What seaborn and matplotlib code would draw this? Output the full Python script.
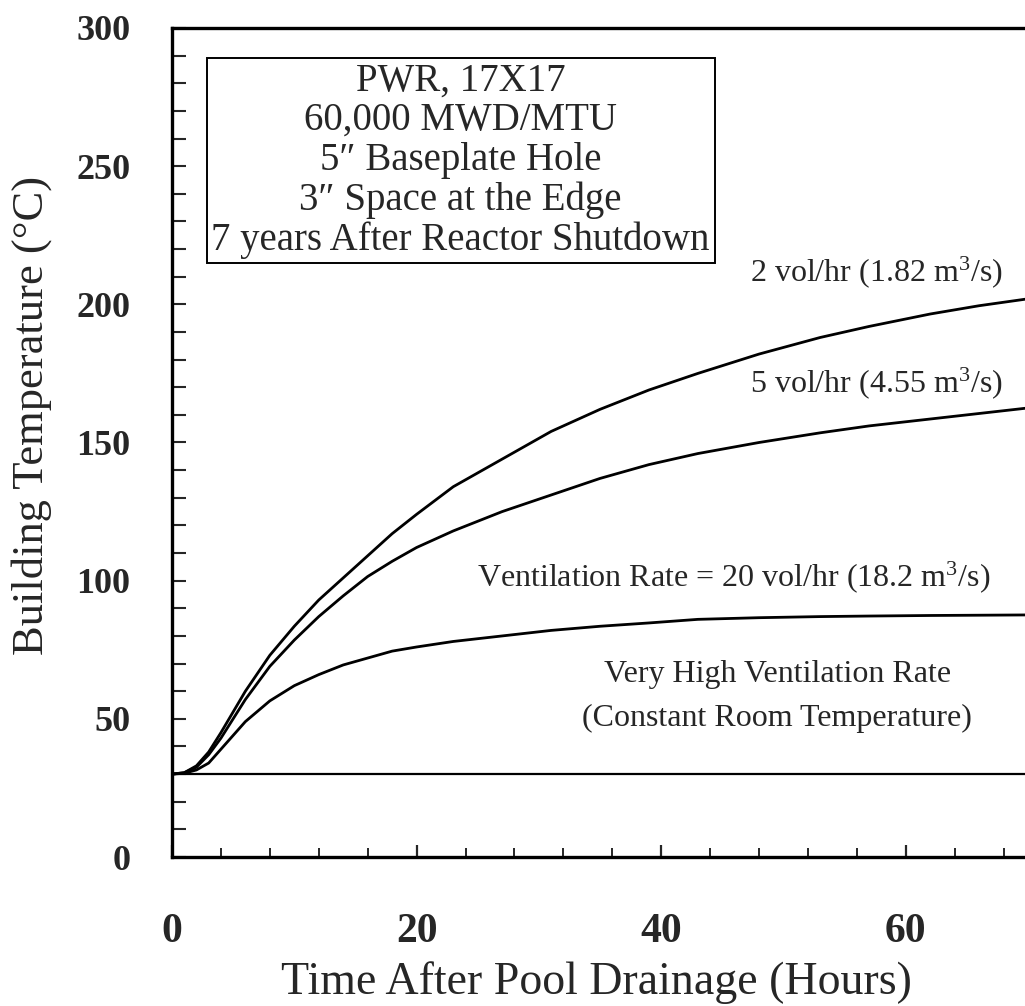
import numpy as np
import pandas as pd
import matplotlib
matplotlib.use("Agg")
import matplotlib.pyplot as plt
import seaborn as sns
from matplotlib.ticker import MultipleLocator

# ─────────────────────────────────────────────
# DATA
# ─────────────────────────────────────────────
hours = [0, 1, 2, 3, 4, 6, 8, 10, 12, 14, 16, 18, 20, 23, 27, 31, 35, 39, 43,
         48, 53, 57, 62, 66, 70]
temp_2vol = [30, 30.5, 33, 38, 45, 60, 73, 83.5, 93, 101, 109, 117, 124, 134,
             144, 154, 162, 169, 175, 182, 188, 192, 196.5, 199.5, 202]
temp_5vol = [30, 30.5, 32.5, 37, 43, 57, 69, 78.5, 87, 94.5, 101.5, 107, 112,
             118, 125, 131, 137, 142, 146, 150, 153.5, 156, 158.5, 160.5, 162.5]
temp_20vol = [30, 30.3, 31.5, 34, 39, 49, 56.5, 62, 66, 69.5, 72, 74.5, 76, 78,
              80, 82, 83.5, 84.7, 86, 86.6, 87, 87.2, 87.4, 87.5, 87.6]
room_temp = 30

box_lines = ["PWR, 17X17", "60,000 MWD/MTU", "5\u2033 Baseplate Hole",
             "3\u2033 Space at the Edge", "7 years After Reactor Shutdown"]
x_ticks = [0, 20, 40, 60]
y_ticks = [0, 50, 100, 150, 200, 250, 300]

df = pd.DataFrame({"hours": hours, "2vol": temp_2vol, "5vol": temp_5vol,
                   "20vol": temp_20vol})
df["room"] = room_temp

# ─────────────────────────────────────────────
# STYLE
# ─────────────────────────────────────────────
sns.set_theme(style="ticks")
plt.rcParams["font.family"] = ["Liberation Serif", "DejaVu Serif"]
plt.rcParams["mathtext.fontset"] = "custom"
plt.rcParams["mathtext.rm"] = "Liberation Serif"
plt.rcParams["mathtext.it"] = "Liberation Serif:italic"

fig = plt.figure(figsize=(10.25, 10.06), dpi=100)
ax = fig.add_axes([172 / 1025, 149 / 1006, 853 / 1025, 829 / 1006])

for col, lw in [("2vol", 2.0), ("5vol", 2.0), ("20vol", 2.0), ("room", 1.6)]:
    sns.lineplot(data=df, x="hours", y=col, color="black", linewidth=lw,
                 estimator=None, ax=ax)

ax.set_xlim(0, 69.75)
ax.set_ylim(0, 300)

ax.xaxis.set_major_locator(MultipleLocator(20))
ax.xaxis.set_minor_locator(MultipleLocator(4))
ax.yaxis.set_major_locator(MultipleLocator(50))
ax.yaxis.set_minor_locator(MultipleLocator(10))
ax.set_xticks(x_ticks)
ax.set_yticks(y_ticks)

ax.tick_params(axis="x", which="major", direction="in", length=9, width=1.6,
               pad=40, labelsize=30)
ax.tick_params(axis="x", which="minor", direction="in", length=6.5, width=1.4)
ax.tick_params(axis="y", which="both", direction="in", length=10, width=1.5,
               pad=30, labelsize=26)
for lab in ax.get_xticklabels() + ax.get_yticklabels():
    lab.set_fontweight("bold")

for side in ["left", "bottom", "top"]:
    ax.spines[side].set_linewidth(2.4)
    ax.spines[side].set_color("black")
ax.spines["right"].set_visible(False)

ax.set_xlabel("Time After Pool Drainage (Hours)", fontsize=33)
ax.set_ylabel("Building Temperature (\u00b0C)", fontsize=32)
ax.xaxis.set_label_coords(0.498, -0.126)
ax.yaxis.set_label_coords(-0.141, 0.533)

# info box
ax.text(23.6, 252.0, "\n".join(box_lines), ha="center", va="center",
        multialignment="center", fontsize=28, linespacing=1.09,
        bbox=dict(boxstyle="square,pad=0.12", facecolor="white",
                  edgecolor="black", linewidth=1.4))

# curve labels
ax.text(67.9, 211.7, r"2 vol/hr (1.82 m$^3$/s)", ha="right", va="center",
        fontsize=23)
ax.text(67.9, 171.6, r"5 vol/hr (4.55 m$^3$/s)", ha="right", va="center",
        fontsize=23)
ax.text(66.9, 101.4, r"Ventilation Rate = 20 vol/hr (18.2 m$^3$/s)",
        ha="right", va="center", fontsize=23)
ax.text(49.5, 66.0, "Very High Ventilation Rate", ha="center", va="center",
        fontsize=23)
ax.text(49.5, 50.3, "(Constant Room Temperature)", ha="center", va="center",
        fontsize=23)

fig.savefig("out.png", dpi=100)
